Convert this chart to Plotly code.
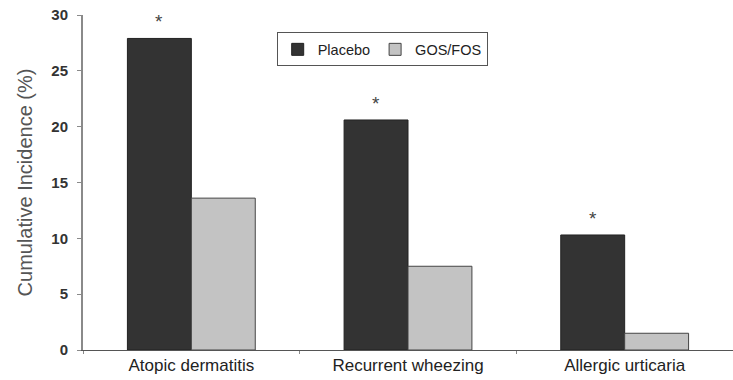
import plotly.graph_objects as go

categories = ["Atopic dermatitis", "Recurrent wheezing", "Allergic urticaria"]
placebo = [27.9, 20.6, 10.3]
gosfos = [13.6, 7.5, 1.5]
significant = ["*", "*", "*"]
y_ticks = [0, 5, 10, 15, 20, 25, 30]

BARGAP = 0.41
W, H = 733, 380
ML, MR, MT, MB = 83, 0, 15, 30

fig = go.Figure()
fig.add_trace(go.Bar(name="Placebo", x=categories, y=placebo,
                     marker=dict(color="#333333", line=dict(color="#222222", width=1))))
fig.add_trace(go.Bar(name="GOS/FOS", x=categories, y=gosfos,
                     marker=dict(color="#c3c3c3", line=dict(color="#444444", width=1))))

bar_w = (1 - BARGAP) / 2
for i, (v, s) in enumerate(zip(placebo, significant)):
    fig.add_annotation(x=i - bar_w / 2, y=v, text=s, showarrow=False,
                       yanchor="bottom", yshift=4,
                       font=dict(size=19, color="#444444", family="Liberation Sans"))

fig.update_layout(
    width=W, height=H,
    margin=dict(l=ML, r=MR, t=MT, b=MB),
    barmode="group", bargap=BARGAP, bargroupgap=0,
    paper_bgcolor="white", plot_bgcolor="white",
    font=dict(family="Liberation Sans, Arial, sans-serif", color="#333333"),
    showlegend=True,
    legend=dict(orientation="h", x=0.298, y=0.948, xanchor="left", yanchor="top",
                bordercolor="#555555", borderwidth=1, bgcolor="white",
                font=dict(size=14.5, color="#222222"),
                itemwidth=30, tracegroupgap=0),
    xaxis=dict(type="category", range=[-0.5, 2.5], showline=True, linecolor="#555555",
               linewidth=1, ticks="outside", tickson="boundaries", ticklen=3,
               tickcolor="#888888", tickfont=dict(size=17, color="#222222"),
               showgrid=False),
    yaxis=dict(range=[0, 30], tickvals=y_ticks, showline=True, linecolor="#8a8a8a",
               linewidth=2, ticks="outside", ticklen=4, tickcolor="#8a8a8a",
               ticklabelstandoff=6,
               tickfont=dict(size=15, color="#333333", weight="bold"),
               showgrid=False, zeroline=False,
               title=dict(text="Cumulative Incidence (%)", standoff=13,
                          font=dict(size=20, color="#555555"))),
)

fig.write_html("out.html")
